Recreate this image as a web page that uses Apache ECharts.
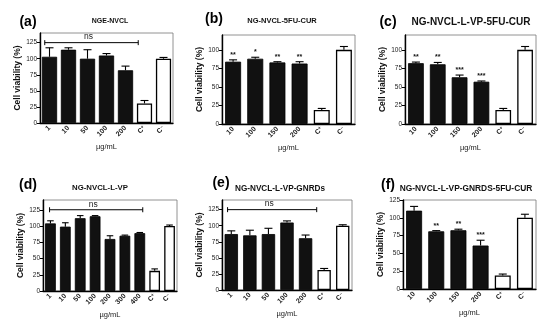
<!DOCTYPE html>
<html><head><meta charset="utf-8">
<script src="https://cdn.jsdelivr.net/npm/echarts@6/dist/echarts.min.js"></script>
<style>html,body{margin:0;padding:0;background:#fff}#c{width:550px;height:334px}</style>
</head><body><div id="c"></div>
<script>
// ---- data ----
const catsA = ['1','10','50','100','200','C+','C-'];
const valsA = [103,114,100,105,82,30.5,100];
const errA  = [14,3,14,3,6.5,4.5,2];
const starsA = ['','','','','','',''];

const catsB = ['10','100','150','200','C+','C-'];
const valsB = [84,88,83,81.5,19,100];
const errB  = [2.5,2,1,2.5,2,4.5];
const starsB = ['**','*','**','**','',''];

const catsC = ['10','100','150','200','C+','C-'];
const valsC = [82,80.5,63,57,19,100];
const errC  = [1.5,2.5,3,1,2,4.5];
const starsC = ['**','**','***','***','',''];

const catsD = ['1','10','50','100','200','300','400','C+','C-'];
const valsD = [104,99,112,115,80,85,89,31,100];
const errD  = [4,6,4,1,5,1,1,3,1.5];
const starsD = ['','','','','','','','',''];

const catsE = ['1','10','50','100','200','C+','C-'];
const valsE = [87,85,87,105,80.5,31,100];
const errE  = [5,8,9,2.5,5,2.5,1.5];
const starsE = ['','','','','','',''];

const catsF = ['10','100','150','200','C+','C-'];
const valsF = [110,81,82.5,61,19,100];
const errF  = [6,1,1.5,7.5,2,5];
const starsF = ['','**','**','***','',''];

const yTicks = [0,25,50,75,100,125];
const yTicksBC = [0,25,50,75,100];
// ns bracket: [first category, last category, y value]
const nsA = [0,4,125];
const nsD = [0,6,125];
const nsE = [0,4,125];

// ---- layout ----
const FONT = 'Liberation Sans, Arial, sans-serif';
const panels = [
  {cats:catsA, vals:valsA, err:errA, stars:starsA, ns:nsA, nsOff:[-0.25,0.67], max:140, ticks:yTicks,
   grid:{left:40,top:33,width:133,height:90}, gap:'20%', nameGap:18, letter:'(a)', lx:28, ly:22, title:'NGE-NVCL', tx:110, ty:21, ts:7},
  {cats:catsB, vals:valsB, err:errB, stars:starsB, ns:null, max:120, ticks:yTicksBC,
   grid:{left:222,top:35,width:133,height:89}, gap:'28%', nameGap:14, letter:'(b)', lx:214, ly:19, title:'NG-NVCL-5FU-CUR', tx:282, ty:21, ts:7.5},
  {cats:catsC, vals:valsC, err:errC, stars:starsC, ns:null, max:120, ticks:yTicksBC,
   grid:{left:405,top:35,width:131,height:89}, gap:'28%', nameGap:14, letter:'(c)', lx:388, ly:22, title:'NG-NVCL-L-VP-5FU-CUR', tx:471, ty:22, ts:10},
  {cats:catsD, vals:valsD, err:errD, stars:starsD, ns:nsD, nsOff:[-0.06,0.2], max:140, ticks:yTicks,
   grid:{left:43,top:200,width:134,height:91}, gap:'28%', nameGap:18, letter:'(d)', lx:28, ly:185, title:'NG-NVCL-L-VP', tx:100, ty:188, ts:7.8},
  {cats:catsE, vals:valsE, err:errE, stars:starsE, ns:nsE, nsOff:[-0.2,0.6], max:140, ticks:yTicks,
   grid:{left:222,top:200,width:130,height:90}, gap:'28%', nameGap:18, letter:'(e)', lx:221, ly:183, title:'NG-NVCL-L-VP-GNRDs', tx:280, ty:189, ts:8.2},
  {cats:catsF, vals:valsF, err:errF, stars:starsF, ns:null, max:125, ticks:yTicks,
   grid:{left:403,top:200,width:133,height:89}, gap:'28%', nameGap:18, letter:'(f)', lx:388, ly:185, title:'NG-NVCL-L-VP-GNRDS-5FU-CUR', tx:466, ty:189, ts:8.4}
];

function catLabel(v){
  if (v.charAt(0) === 'C') return '{n|C}{s|' + (v.charAt(1) === '+' ? '+' : '\u2013') + '}';
  return '{n|' + v + '}';
}

const grids = [], xAxes = [], yAxes = [], series = [], graphics = [];
panels.forEach((p, i) => {
  grids.push(Object.assign({show:true, borderColor:'#777', borderWidth:0.8, containLabel:false}, p.grid));
  xAxes.push({
    type:'category', gridIndex:i, data:p.cats,
    name:'µg/mL', nameLocation:'middle', nameGap:20,
    nameTextStyle:{fontFamily:FONT, fontSize:7.5, color:'#222'},
    axisLine:{lineStyle:{color:'#000', width:1.4}},
    axisTick:{alignWithLabel:true, length:3, lineStyle:{color:'#000', width:1}},
    axisLabel:{rotate:45, fontFamily:FONT, color:'#222', margin:4, interval:0,
      formatter:catLabel,
      rich:{n:{fontFamily:FONT, fontSize:7, fontWeight:'bold', color:'#222'},
            s:{fontFamily:FONT, fontSize:5, fontWeight:'bold', color:'#222', verticalAlign:'top', padding:[0,0,3,0]}}},
    splitLine:{show:false}
  });
  yAxes.push({
    type:'value', gridIndex:i, min:0, max:p.max, interval:25,
    name:'Cell viability (%)', nameLocation:'middle', nameGap:p.nameGap,
    nameTextStyle:{fontFamily:FONT, fontSize:8.5, fontWeight:'bold', color:'#111'},
    axisLine:{show:true, lineStyle:{color:'#000', width:1.4}},
    axisTick:{show:true, length:3, customValues:p.ticks, lineStyle:{color:'#000', width:1}},
    axisLabel:{fontFamily:FONT, fontSize:6.5, color:'#222', margin:3, customValues:p.ticks},
    splitLine:{show:false}
  });
  const n = p.cats.length;
  series.push({
    type:'bar', xAxisIndex:i, yAxisIndex:i, barCategoryGap:p.gap,
    data:p.vals.map((v, k) => ({
      value:v,
      itemStyle: k >= n-2 ? {color:'#fff', borderColor:'#000', borderWidth:1.3}
                          : {color:'#111', borderColor:'#000', borderWidth:0.8}
    })),
    silent:true, animation:false
  });
  series.push({
    type:'custom', xAxisIndex:i, yAxisIndex:i, silent:true, animation:false,
    data:p.vals.map((v, k) => [k, v, p.err[k]]),
    encode:{x:0, y:1},
    renderItem:function(params, api){
      const k = api.value(0), v = api.value(1), e = api.value(2);
      const star = p.stars[k];
      const p0 = api.coord([k, v]);
      const p1 = api.coord([k, v + e]);
      const cw = api.size([1, 0])[0];
      const cap = Math.min(cw * 0.22, 4);
      const ch = [
        {type:'line', shape:{x1:p0[0], y1:p0[1], x2:p1[0], y2:p1[1]}, style:{stroke:'#000', lineWidth:1.1}},
        {type:'line', shape:{x1:p1[0]-cap, y1:p1[1], x2:p1[0]+cap, y2:p1[1]}, style:{stroke:'#000', lineWidth:1.1}}
      ];
      if (star) ch.push({type:'text', x:p1[0], y:p1[1]-1.5,
        style:{text:star, font:'bold 7px ' + FONT, fill:'#111', align:'center', verticalAlign:'bottom'}});
      return {type:'group', children:ch};
    }
  });
  if (p.ns) {
    series.push({
      type:'custom', xAxisIndex:i, yAxisIndex:i, silent:true, animation:false,
      data:[[p.ns[0], p.ns[2], p.ns[1]]], encode:{x:0, y:1},
      renderItem:function(params, api){
        const a = api.coord([p.ns[0], p.ns[2]]);
        const b = api.coord([p.ns[1], p.ns[2]]);
        const cw = api.size([1, 0])[0];
        const x1 = a[0] + p.nsOff[0]*cw, x2 = b[0] + p.nsOff[1]*cw, y = a[1];
        return {type:'group', children:[
          {type:'line', shape:{x1:x1, y1:y, x2:x2, y2:y}, style:{stroke:'#000', lineWidth:1}},
          {type:'line', shape:{x1:x1, y1:y-2.5, x2:x1, y2:y+2.5}, style:{stroke:'#000', lineWidth:1}},
          {type:'line', shape:{x1:x2, y1:y-2.5, x2:x2, y2:y+2.5}, style:{stroke:'#000', lineWidth:1}},
          {type:'text', x:(x1+x2)/2 - 3, y:y-1, style:{text:'ns', font:'8.5px ' + FONT, fill:'#222', align:'center', verticalAlign:'bottom'}}
        ]};
      }
    });
  }
  graphics.push({type:'text', x:p.lx, y:p.ly, style:{text:p.letter, font:'bold 14px ' + FONT, fill:'#000', align:'center', verticalAlign:'middle'}});
  graphics.push({type:'text', x:p.tx, y:p.ty, style:{text:p.title, font:'bold ' + p.ts + 'px ' + FONT, fill:'#111', align:'center', verticalAlign:'middle'}});
});

const chart = echarts.init(document.getElementById('c'), null, {renderer:'canvas'});
chart.setOption({
  animation:false, backgroundColor:'#fff',
  grid:grids, xAxis:xAxes, yAxis:yAxes, series:series, graphic:graphics
});
</script></body></html>
